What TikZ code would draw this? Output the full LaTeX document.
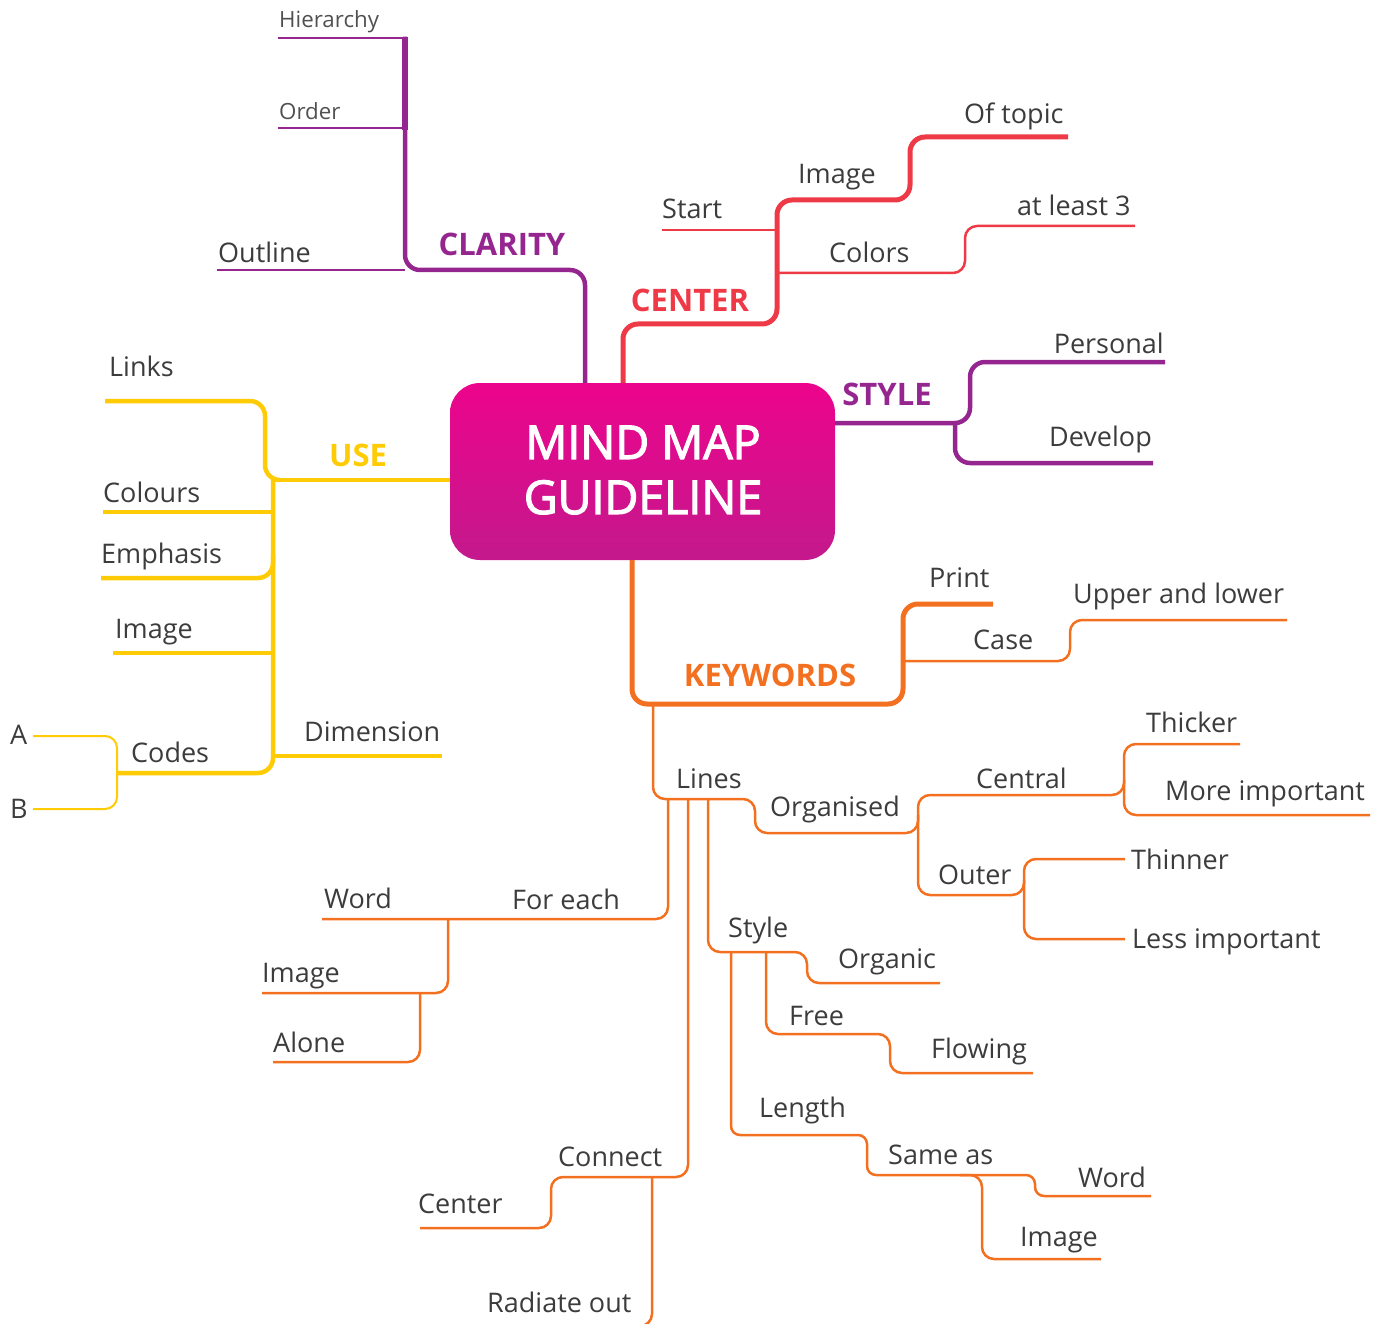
\documentclass[tikz,border=0pt]{standalone}
\usepackage{fontspec}
\setmainfont{Open Sans}
\newfontfamily\hubfont[FakeBold=2.6]{Open Sans}
\usetikzlibrary{calc}

\definecolor{clarityc}{HTML}{952690}
\definecolor{centerc}{HTML}{EE3A46}
\definecolor{usec}{HTML}{FFCB05}
\definecolor{keyc}{HTML}{F37021}
\definecolor{labelc}{HTML}{3C3C3C}
\definecolor{smallc}{HTML}{505050}
\definecolor{hubtop}{HTML}{EC048C}
\definecolor{hubbot}{HTML}{C4198D}

\tikzset{
  lbl/.style={inner sep=0pt, anchor=base west, text=labelc, font=\fontsize{27}{30}\selectfont},
  lblr/.style={lbl, anchor=base east},
  smalllbl/.style={lbl, text=smallc, font=\fontsize{22.3}{26}\selectfont},
  head/.style={inner sep=0pt, anchor=center, font=\bfseries\fontsize{31}{36}\selectfont},
  trunk/.style={line width=5pt, rounded corners=15pt},
  hair/.style={line width=2.5pt, rounded corners=12pt},
  hub/.style={rounded corners=30pt, minimum width=385pt, minimum height=177pt,
    top color=hubtop, bottom color=hubbot, draw=none, inner sep=0pt},
  hubtext/.style={align=center, text=white, inner sep=0pt,
    font=\hubfont\fontsize{46.5}{55}\selectfont},
}

\begin{document}
\begin{tikzpicture}[x=1pt,y=-1pt]
\useasboundingbox (0,0) rectangle (1387,1324);

% central topic
\node[hub] (hub) at (642.5,471.5) {};
\node[hubtext] (title) at (643,470) {MIND MAP\\GUIDELINE};

% ---------------- CLARITY ----------------
\draw[trunk,line width=4.5pt,clarityc] ($(hub.north)+(-57.5,0)$) -- (585,270) -- (405,270) -- (405,36.75) coordinate (clTop);
\draw[line width=6pt,clarityc] (405,130) -- (clTop);
\draw[hair,clarityc] (278,38) coordinate (hierEnd) -- (405,38);
\draw[hair,clarityc] (278,128) coordinate (orderEnd) -- (405,128);
\draw[hair,clarityc] (217,270) coordinate (outlineEnd) -- (405,270);
\node[smalllbl] (hier) at (279,28) {Hierarchy};
\node[smalllbl] (order) at (279,120) {Order};
\node[lbl] (outline) at (218,263) {Outline};
\node[head,text=clarityc] (clarity) at (502,244) {CLARITY};

% ---------------- CENTER ----------------
\draw[trunk,centerc] ($(hub.north)+(-19.5,0)$) -- (623,324) -- (777,324) -- (777,200) -- (910,200) -- (910,137) -- (1068,137) coordinate (topicEnd);
\draw[hair,centerc] (662,230) coordinate (startEnd) -- (777,230);
\draw[hair,centerc] (777,273) -- (965,273) -- (965,226) -- (1135,226) coordinate (threeEnd);
\node[head,text=centerc] (center) at (690,300) {CENTER};
\node[lbl] (start) at (662,219) {Start};
\node[lbl] (imgc) at (798,184) {Image};
\node[lbl] (oftopic) at (964,124) {Of topic};
\node[lbl] (colors) at (829,263) {Colors};
\node[lbl] (atleast) at (1017,216) {at least 3};

% ---------------- STYLE ----------------
\draw[trunk,line width=4.5pt,clarityc] ($(hub.east)+(0,-48.5)$) -- (970,423) -- (970,362) -- (1165,362) coordinate (personalEnd);
\draw[trunk,line width=4.5pt,clarityc] (955,423) -- (955,463) -- (1153,463) coordinate (developEnd);
\node[head,text=clarityc] (style) at (887,394) {STYLE};
\node[lblr] (personal) at (1164,353) {Personal};
\node[lblr] (develop) at (1152,446) {Develop};

% ---------------- USE ----------------
\draw[trunk,line width=4.5pt,usec] ($(hub.west)+(0,8.5)$) -- (280,480) coordinate (useJ);
\draw[trunk,line width=4.5pt,usec] (useJ) -- (265,480) -- (265,401) -- (105,401) coordinate (linksEnd);
\draw[trunk,line width=4.5pt,usec] (273,477.75) -- (273,773) -- (117,773) coordinate (codesEnd);
\draw[trunk,line width=4.5pt,usec] (273,512) -- (103,512) coordinate (coloursEnd);
\draw[trunk,line width=4.5pt,usec] (273,555) -- (273,578) -- (101,578) coordinate (emphEnd);
\draw[trunk,line width=4.5pt,usec] (273,653) -- (113,653) coordinate (imguEnd);
\draw[trunk,line width=4.5pt,usec] (273,756) -- (442,756) coordinate (dimEnd);
\draw[hair,line width=2pt,usec] (codesEnd) -- (117,736) -- (33,736) coordinate (aEnd);
\draw[hair,line width=2pt,usec] (codesEnd) -- (117,809) -- (33,809) coordinate (bEnd);
\node[head,text=usec] (use) at (358,455) {USE};
\node[lbl] (links) at (109,377) {Links};
\node[lbl] (colours) at (103,502) {Colours};
\node[lbl] (emphasis) at (101,563) {Emphasis};
\node[lbl] (imgu) at (115,638) {Image};
\node[lbl] (dimension) at (304,741) {Dimension};
\node[lbl] (codes) at (131,762) {Codes};
\node[lbl] (a) at (10,744) {A};
\node[lbl] (b) at (10,818) {B};

% ---------------- KEYWORDS ----------------
\draw[trunk,keyc] ($(hub.south)+(-10.5,0)$) -- (632,704) -- (903,704) -- (903,604) -- (993,604) coordinate (printEnd);
\draw[hair,keyc] (903,661) -- (1070,661) -- (1070,620) -- (1287,620) coordinate (upperEnd);
\node[head,text=keyc] (keywords) at (770,675) {KEYWORDS};
\node[lbl] (print) at (929,587) {Print};
\node[lbl] (case) at (973,649) {Case};
\node[lbl] (upper) at (1073,603) {Upper and lower};

% Lines / Organised
\draw[hair,keyc] (653,704) -- (653,799) -- (755,799) -- (755,833) -- (918,833) -- (918,795) -- (1124,795) -- (1124,744) -- (1240,744) coordinate (thickerEnd);
\draw[hair,keyc] (1124,780) -- (1124,815) -- (1370,815) coordinate (moreEnd);
\draw[hair,keyc] (918,815) -- (918,895) -- (1024,895) -- (1024,859) -- (1125,859) coordinate (thinnerEnd);
\draw[hair,keyc] (1024,880) -- (1024,939) -- (1125,939) coordinate (lessEnd);
\node[lbl] (lines) at (676,788) {Lines};
\node[lbl] (organised) at (770,816) {Organised};
\node[lbl] (central) at (976,788) {Central};
\node[lbl] (thicker) at (1146,732) {Thicker};
\node[lbl] (moreimp) at (1165,800) {More important};
\node[lbl] (outer) at (938,884) {Outer};
\node[lbl] (thinner) at (1131,869) {Thinner};
\node[lbl] (lessimp) at (1132,948) {Less important};

% For each
\draw[hair,keyc] (668,799) -- (668,919) -- (322,919) coordinate (wordEnd);
\draw[hair,keyc] (448,919) -- (448,993) -- (262,993) coordinate (imgEnd);
\draw[hair,keyc] (420,993) -- (420,1062) -- (273,1062) coordinate (aloneEnd);
\node[lbl] (foreach) at (512,909) {For each};
\node[lbl] (word) at (324,908) {Word};
\node[lbl] (imgf) at (262,982) {Image};
\node[lbl] (alone) at (273,1052) {Alone};

% Connect
\draw[hair,keyc] (688,799) -- (688,1177) -- (551,1177) -- (551,1228) -- (420,1228) coordinate (centerEnd);
\draw[hair,keyc] (652,1177) -- (652,1326) -- (610,1326) coordinate (radiateEnd);
\node[lbl] (connect) at (558,1166) {Connect};
\node[lbl] (centerw) at (418,1213) {Center};
\node[lbl] (radiate) at (487,1312) {Radiate out};

% Style
\draw[hair,keyc] (708,799) -- (708,952) -- (807,952) -- (807,983) -- (940,983) coordinate (organicEnd);
\draw[hair,keyc] (766,952) -- (766,1034) -- (890,1034) -- (890,1073) -- (1033,1073) coordinate (flowingEnd);
\draw[hair,keyc,rounded corners=9pt] (731,952) -- (731,1135) -- (867,1135) -- (867,1175) -- (1035,1175) -- (1035,1196) -- (1151,1196) coordinate (word2End);
\draw[hair,keyc] (960,1175) -- (982,1175) -- (982,1259) -- (1101,1259) coordinate (img3End);
\node[lbl] (stylek) at (728,937) {Style};
\node[lbl] (organic) at (838,968) {Organic};
\node[lbl] (free) at (789,1025) {Free};
\node[lbl] (flowing) at (931,1058) {Flowing};
\node[lbl] (length) at (759,1117) {Length};
\node[lbl] (sameas) at (888,1164) {Same as};
\node[lbl] (word2) at (1078,1187) {Word};
\node[lbl] (img3) at (1020,1246) {Image};
\end{tikzpicture}
\end{document}
